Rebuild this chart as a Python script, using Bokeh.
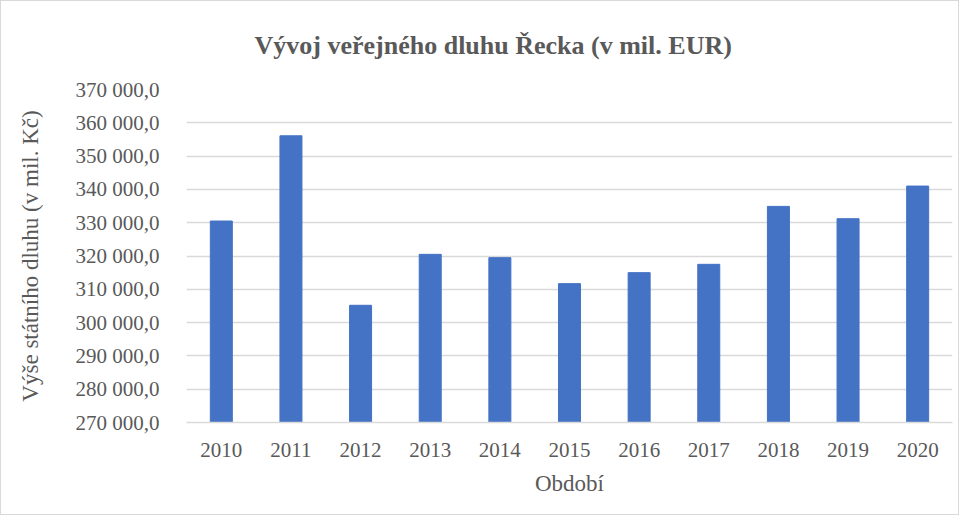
from bokeh.plotting import figure
from bokeh.models import FixedTicker
from bokeh.embed import file_html
from bokeh.resources import INLINE

years = ["2010", "2011", "2012", "2013", "2014", "2015", "2016", "2017", "2018", "2019", "2020"]
debt = [330500, 356100, 305200, 320500, 319500, 311700, 315000, 317500, 334900, 331200, 341000]
y_ticks = [270000, 280000, 290000, 300000, 310000, 320000, 330000, 340000, 350000, 360000, 370000]

title_text = "Vývoj veřejného dluhu Řecka (v mil. EUR)"
x_label = "Období"
y_label = "Výše státního dluhu (v mil. Kč)"

FONT = "Liberation Serif"
TXT = "#595959"
GRID = "#d9d9d9"

p = figure(x_range=years, y_range=(y_ticks[0], y_ticks[-1]), width=959, height=515,
           output_backend="svg", toolbar_location=None,
           min_border_left=185, min_border_right=8, min_border_top=88, min_border_bottom=94)
p.styles = {"border": "1px solid #d9d9d9"}

p.vbar(x=years, top=debt, bottom=y_ticks[0], width=0.316, color="#4472C4")

p.outline_line_color = None
p.xgrid.grid_line_color = None
p.ygrid.grid_line_color = GRID
p.ygrid.grid_line_width = 1.5

p.title.text = title_text
p.title.align = "left"
p.title.offset = 68
p.title.standoff = 56
p.title.vertical_align = "top"
p.title.text_font = FONT
p.title.text_font_size = "26px"
p.title.text_font_style = "bold"
p.title.text_color = TXT

p.yaxis.ticker = FixedTicker(ticks=y_ticks)
p.yaxis.major_label_overrides = {t: f"{t:,.1f}".replace(",", " ").replace(".", ",") for t in y_ticks}
p.yaxis.axis_line_color = None
p.yaxis.major_tick_line_color = None
p.yaxis.minor_tick_line_color = None
p.yaxis.major_label_standoff = 21
p.yaxis.axis_label = y_label
p.yaxis.axis_label_standoff = 30

p.xaxis.axis_line_color = GRID
p.xaxis.axis_line_width = 1.5
p.xaxis.major_tick_line_color = None
p.xaxis.minor_tick_line_color = None
p.xaxis.major_label_standoff = 14
p.xaxis.axis_label = x_label
p.xaxis.axis_label_standoff = 11

for ax in (p.xaxis, p.yaxis):
    ax.major_label_text_font = FONT
    ax.major_label_text_font_size = "21px"
    ax.major_label_text_color = TXT
    ax.axis_label_text_font = FONT
    ax.axis_label_text_font_size = "23px"
    ax.axis_label_text_color = TXT
    ax.axis_label_text_font_style = "normal"

open("out.html", "w").write(file_html(p, INLINE))
